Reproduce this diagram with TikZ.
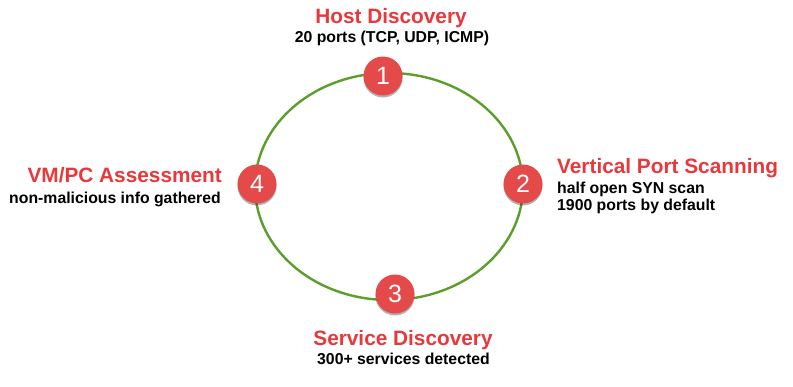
\documentclass[tikz,border=0pt]{standalone}
\usepackage{fontspec}
\setmainfont{Liberation Sans}
\usetikzlibrary{shadows}
\definecolor{tred}{HTML}{E8383B}
\definecolor{cred}{HTML}{E54A4B}
\definecolor{lgreen}{HTML}{5C9E2C}
\tikzset{
  stepdot/.style={circle, minimum size=39pt, inner sep=0pt, fill=cred, text=white,
    font=\fontsize{25}{28}\selectfont,
    drop shadow={shadow xshift=0pt, shadow yshift=-2pt, fill=black, opacity=0.3}},
  ttl/.style={text=tred, font=\bfseries\fontsize{20.8}{24}\selectfont, inner sep=0pt},
  sub/.style={text=black, font=\bfseries\fontsize{15.8}{18}\selectfont, inner sep=0pt},
  ring/.style={draw=lgreen, line width=2.4pt}
}
\begin{document}
\begin{tikzpicture}[x=1pt,y=-1pt]
\useasboundingbox (0,0) rectangle (793,386);
\draw[ring] (389,186.5) ellipse [x radius=134, y radius=113.5];
\node[stepdot] (n1) at (383,76) {1};
\node[stepdot] (n2) at (523,184) {2};
\node[stepdot] (n3) at (395,294) {3};
\node[stepdot] (n4) at (257,184) {4};
% 1
\node[ttl, anchor=base] (t1) at (391,23) {Host Discovery};
\node[sub, anchor=base] (s1) at (392,42) {20 ports (TCP, UDP, ICMP)};
% 2
\node[ttl, anchor=base west] (t2) at (557,173) {Vertical Port Scanning};
\node[sub, anchor=base west] (s2a) at (557,193) {half open SYN scan};
\node[sub, anchor=base west] (s2b) at (557,210) {1900 ports by default};
% 3
\node[ttl, anchor=base] (t3) at (403,345.5) {Service Discovery};
\node[sub, anchor=base] (s3) at (403.5,364) {300+ services detected};
% 4
\node[ttl, anchor=base east] (t4) at (222,182) {VM/PC Assessment};
\node[sub, anchor=base east] (s4) at (221,203) {non-malicious info gathered};
\end{tikzpicture}
\end{document}
